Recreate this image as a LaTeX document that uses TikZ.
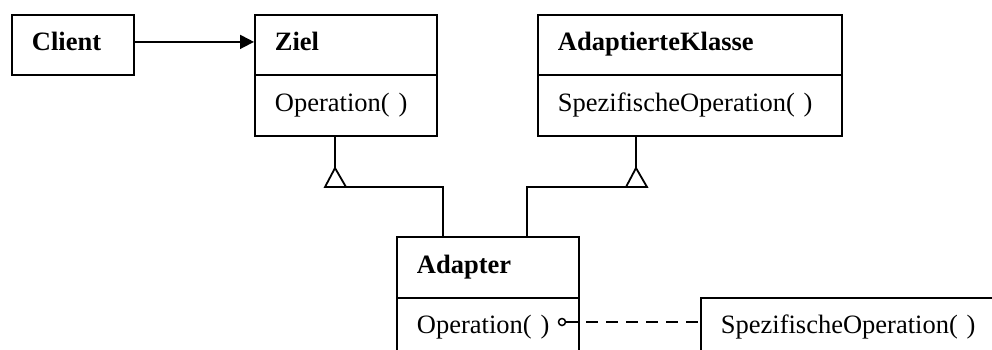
\documentclass[tikz,border=0pt]{standalone}
\usepackage{fontspec}
\setmainfont{Liberation Serif}
\usetikzlibrary{arrows.meta}
\tikzset{
  cls/.style={draw, line width=1.8pt, rectangle, anchor=north west, inner xsep=20pt, inner ysep=0pt,
    align=left, text height=18pt, text depth=6pt, font=\fontsize{26.5}{30}\selectfont},
  ln/.style={line width=1.8pt},
}
\begin{document}
\begin{tikzpicture}[x=1pt,y=-1pt]
\useasboundingbox (0,0) rectangle (992,349);
\clip (0,0) rectangle (992,349);
% classes
\node[cls, text width=82pt, minimum height=60pt, font=\fontsize{26.5}{30}\selectfont\bfseries] (client) at (11,14) {Client};
\node[cls, text width=142pt, minimum height=60pt, font=\fontsize{26.5}{30}\selectfont\bfseries] (zt) at (254,14) {Ziel};
\node[cls, text width=142pt, minimum height=61pt] (zb) at (254,74) {Operation( )};
\node[cls, text width=264pt, minimum height=60pt, font=\fontsize{26.5}{30}\selectfont\bfseries] (akt) at (537,14) {AdaptierteKlasse};
\node[cls, text width=264pt, minimum height=61pt] (akb) at (537,74) {SpezifischeOperation( )};
\node[cls, text width=142pt, minimum height=61pt, font=\fontsize{26.5}{30}\selectfont\bfseries] (at) at (396,236) {Adapter};
\node[cls, text width=142pt, minimum height=60pt] (ab) at (396,297) {Operation( )};
\node[cls, text width=280pt, minimum height=60pt] (note) at (700,297) {SpezifischeOperation( )};
% association
\draw[ln, -{Triangle[length=14pt,width=14pt]}] ([yshift=3pt]client.east) -- ([yshift=3pt]zt.west);
% inheritance Ziel
\coordinate (t1) at (335,168);
\coordinate (t1l) at (325,187);
\coordinate (t1r) at (346,187);
\coordinate (j1) at (443,187);
\draw[ln] (zb.south -| t1) -- (t1);
\draw[ln, line join=miter] (t1) -- (t1l) -- (t1r) -- cycle;
\draw[ln] (t1r) -- (j1) -- (j1 |- at.north);
% inheritance AdaptierteKlasse
\coordinate (t2) at (636,168);
\coordinate (t2l) at (626,187);
\coordinate (t2r) at (647,187);
\coordinate (j2) at (527,187);
\draw[ln] (akb.south -| t2) -- (t2);
\draw[ln, line join=miter] (t2) -- (t2l) -- (t2r) -- cycle;
\draw[ln] (t2l) -- (j2) -- (j2 |- at.north);
% note connector
\node[draw, circle, line width=1.5pt, minimum size=7pt, inner sep=0pt] (dot) at (562,322) {};
\draw[ln, dash pattern=on 14pt off 6pt on 12pt off 8pt on 12pt off 8pt on 12pt off 8pt on 12pt off 8pt on 12pt off 8pt on 12pt off 8pt]
  (dot.east) -- (note.west |- dot);
\end{tikzpicture}
\end{document}
